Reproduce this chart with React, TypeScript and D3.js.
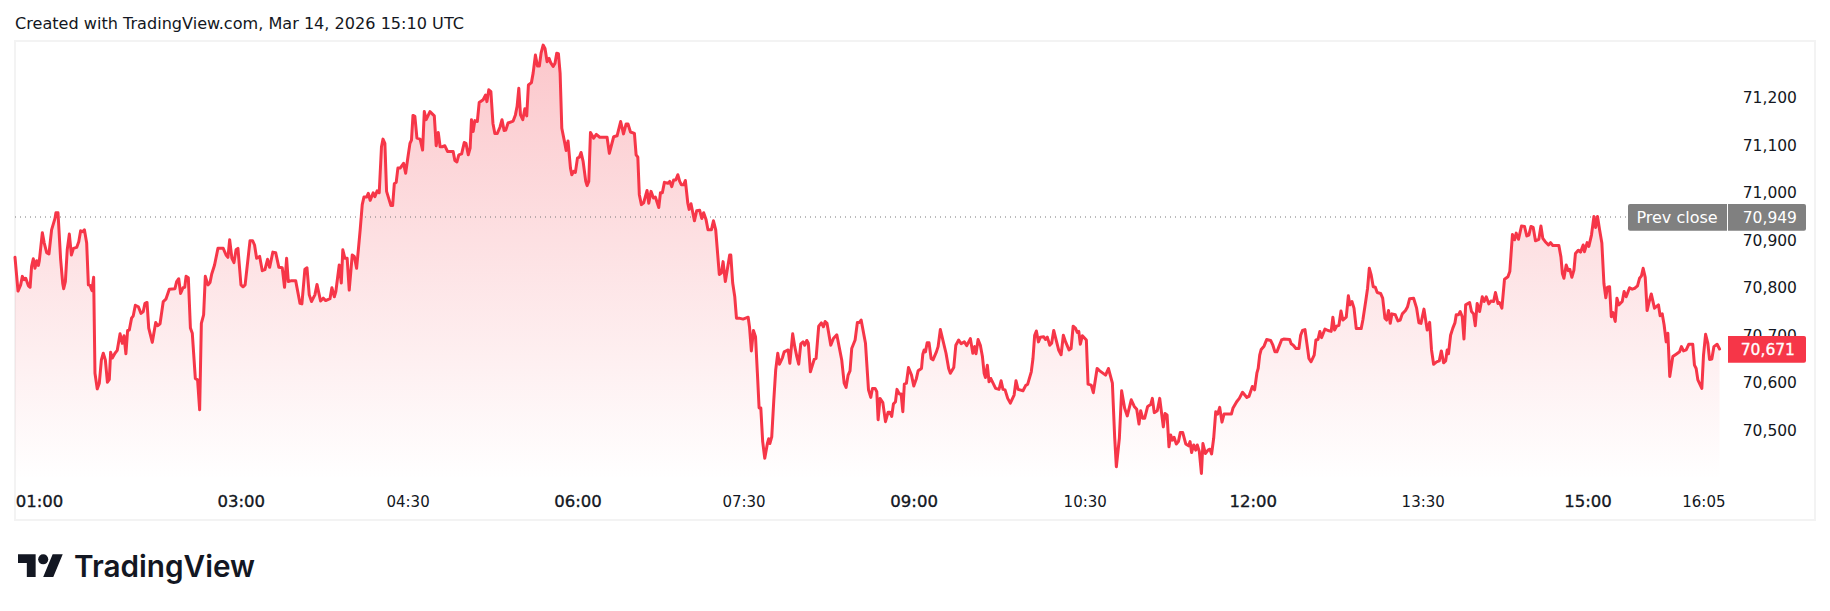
import React from "react";
import * as d3 from "d3";

type P = [number, number];
// [minutes since the first bar, price]
const early: P[] = [[0,70864],[1.6,70793],[3,70806],[3.9,70824],[4.8,70817],[5.7,70820],[7.1,70804],[8,70801],[8.8,70845],[9.7,70861],[10.6,70841],[11.5,70857],[12.4,70847],[12.9,70857],[14.5,70916],[15.5,70894],[16.8,70874],[18,70871],[19.4,70922],[21.2,70946],[21.7,70958],[22.8,70958],[24.2,70859],[25.3,70809],[25.8,70798],[26.7,70813],[27.7,70880],[28.8,70913],[29.9,70869],[31,70883],[32.7,70885],[33.8,70897],[34.8,70920],[35.9,70918],[36.8,70922],[38,70894],[38.9,70806],[39.8,70805],[40.8,70794],[41.7,70822],[42.4,70620],[43.6,70587],[44.7,70599],[45.8,70648],[46.8,70662],[47.9,70648],[49,70601],[50,70607],[50.7,70664],[51.6,70652],[53,70662],[54.2,70668],[55.7,70703],[56.9,70683],[57.8,70699],[58.8,70661],[59.7,70710],[60.6,70711],[61.8,70736],[62.7,70741],[63.8,70763],[65.4,70760],[66.8,70746],[68,70750],[68.9,70767],[70,70769],[70.9,70715],[72.8,70685],[74.6,70727],[75.6,70720],[76.9,70724],[78.6,70771],[80,70776],[81.8,70797],[84.8,70798],[85.7,70813],[86.8,70819],[87.8,70788],[89.1,70800],[90,70801],[90.7,70824],[91.9,70821],[93,70715],[94,70704],[95.6,70609],[96.8,70606],[97.9,70543],[98.8,70725],[100,70743],[100.9,70824],[102.3,70806],[103.4,70811],[104.3,70829],[105.8,70848],[107.6,70883],[110.4,70883],[111.9,70869],[112.9,70864],[113.8,70901],[115,70862],[116.1,70853],[117.2,70880],[118.2,70883],[119.8,70806],[120.9,70802],[122,70806],[124.6,70899],[126,70899],[127,70890]];

const climb: P[] = [[128.1,70862],[129.7,70866],[131.1,70836],[132.5,70838],[133.9,70860],[135,70843],[136.7,70875],[138.2,70874],[139.9,70843],[141.7,70842],[142.9,70801],[144,70862],[144.9,70813],[146.6,70815],[148.8,70815],[151.1,70767],[152.1,70766],[153.7,70839],[154.8,70842],[156,70785],[157.2,70771],[159,70785],[160.1,70807],[162,70772],[163.4,70778],[164.7,70773],[167,70777],[168,70800],[169.3,70781],[170.1,70792],[171.9,70848],[173,70810],[173.8,70880],[174.9,70862],[176.1,70862],[177.2,70795],[178.8,70869],[179.9,70866],[181.1,70841],[182.2,70887],[183,70922],[184.1,70975],[185,70991],[186.4,70991],[187.3,70999],[188.3,70984],[189.9,71000],[190.8,70992],[192,71004],[193.1,71000],[194.3,71097],[195.1,71113],[196.1,71104],[197,71003],[199.3,70973],[200.2,70973],[201.1,71019],[202.1,71022],[203,71052],[204.2,71052],[206,71062],[207.1,71041],[208.5,71080],[209.4,71104],[210.2,71111],[211,71163],[212,71161],[213.1,71115],[214.8,71113],[216.1,71090],[217,71171],[218,71154],[220,71171],[222.3,71162],[223.3,71099],[224.4,71127],[225.4,71097],[226.5,71097],[227.9,71099],[229.3,71087],[232.3,71087],[233.2,71068],[234.3,71065],[235.3,71080],[236.8,71082],[238.2,71106],[239.1,71104],[240.3,71080],[241.3,71094],[242,71154],[242.9,71129],[243.8,71152],[245.1,71150],[246.1,71190],[248.2,71196],[249.5,71206],[250.2,71192],[251.2,71217],[252.3,71213],[253.4,71146],[254.4,71125],[255.7,71125],[257.1,71138]];

const peak: P[] = [[258.2,71154],[259.3,71131],[260.2,71132],[261.4,71147],[264.1,71151],[265.3,71164],[266.2,71182],[267.1,71220],[268,71164],[269.2,71154],[270.3,71177],[271.3,71162],[272.2,71227],[273.8,71232],[274.7,71252],[275.9,71290],[277,71267],[278,71267],[278.9,71294],[280,71311],[281,71304],[282.1,71276],[283.2,71283],[284,71274],[285.3,71266],[286.3,71273],[287.2,71294],[288.1,71293],[289,71252],[289.9,71136],[291.5,71104],[292.2,71089],[293.2,71109],[294.5,71052],[295.2,71038],[296.2,71045],[297.1,71043],[298.2,71073],[299.2,71075],[300.1,71085],[301.2,71066],[302.6,71024],[303.3,71015],[304.2,71024],[305.1,71127],[306.8,71115],[308.2,71123],[310,71117],[313.9,71117],[315.1,71083],[317.4,71118],[319.2,71120],[321.1,71150],[322.6,71124],[324,71145],[325,71145],[326.3,71128],[328.4,71125],[329.3,71080],[330.2,71075],[331,70996],[332.1,70975],[333.3,70979],[335.1,71005],[336,70978],[337.2,71003],[338.5,70989],[339.5,70991],[341.3,70969],[342.2,71000],[343.2,71000],[344.3,71022],[346.2,71020],[347.1,71024],[348.2,71013],[349.2,71027],[350.3,71027],[351.4,71038],[352.4,71024],[353.3,71017],[354.5,71017],[355.4,71026],[356.7,70978],[357.4,70965],[358.4,70977],[360.2,70941],[361.4,70962],[363,70963],[364.1,70946],[365.1,70958],[366.4,70943],[367.4,70922],[369.2,70922],[370.3,70941],[371.5,70922],[373.4,70828],[374.5,70831],[375.4,70855],[376.6,70813],[378.9,70869],[379.5,70869],[380.5,70810],[381.6,70781],[382.5,70736],[383.9,70736],[386,70734]];

const slide: P[] = [[388.7,70738],[389.4,70718],[390.4,70667],[391.5,70710],[392.6,70697],[393.6,70620],[394.5,70547],[395.4,70547],[396.4,70476],[397.5,70441],[398.9,70472],[399.6,70482],[400.2,70472],[401.2,70486],[402.3,70564],[403.3,70627],[404.4,70662],[405.3,70639],[406.9,70653],[407.8,70665],[409.9,70669],[410.8,70641],[412.3,70703],[413.4,70676],[414.5,70655],[415.5,70639],[416.6,70682],[417.8,70686],[418.7,70679],[419.8,70689],[420.6,70683],[421.7,70623],[422.8,70637],[423.7,70649],[424.7,70651],[426.1,70719],[427.5,70726],[428.6,70718],[429.5,70729],[430.5,70725],[432.5,70679],[433.9,70693],[435.7,70701],[438.3,70648],[439.6,70599],[440.6,70590],[441.7,70616],[442.7,70625],[443.6,70672],[445.4,70690],[446.6,70727],[447.7,70727],[448.6,70732],[450.9,70683],[452.5,70585],[453.7,70569],[454.6,70588],[456,70588],[456.9,70581],[457.6,70522],[458.6,70567],[460.1,70558],[461.5,70518],[462.9,70538],[463.9,70538],[464.8,70529],[465.7,70555],[466.8,70560],[467.6,70586],[468.9,70576],[469.8,70576],[470.7,70539],[471.5,70597],[472.6,70599],[473.7,70632],[475.3,70616],[476.5,70593],[477.9,70609],[478.8,70625],[480.6,70630],[481.3,70660],[482,70669],[482.7,70665],[483.6,70684],[484.6,70684],[485.7,70651],[486.7,70648],[488.5,70665],[489.4,70676],[490.6,70712],[493.6,70662],[495,70630],[495.9,70620],[497.7,70632],[498.8,70679],[500.3,70690],[501.6,70682],[503.3,70686],[504.6,70678],[506.5,70693],[507.8,70662],[508.8,70676],[509.5,70661],[510.6,70691],[511.8,70679],[512.9,70655],[513.8,70620],[514.5,70611],[515.5,70637],[516.4,70602],[517.3,70609]];

const trough: P[] = [[519.9,70588],[521.7,70586],[522.8,70604],[523.8,70586],[524.9,70585],[526.3,70567],[527.7,70557],[529.7,70574],[530.7,70604],[531.8,70586],[534.4,70583],[535.8,70594],[536.9,70597],[538.8,70623],[539.7,70651],[540.6,70700],[541.5,70709],[542.6,70686],[543.6,70696],[545.4,70697],[546.3,70691],[547.3,70696],[548.6,70679],[549.6,70683],[550.7,70710],[553.3,70669],[554.6,70659],[555.8,70700],[557,70686],[558.8,70669],[559.9,70672],[561,70719],[562.2,70715],[563.2,70706],[564,70708],[564.8,70681],[565.9,70699],[568,70690],[568.9,70597],[570.6,70595],[571.7,70579],[573.7,70630],[575.1,70625],[578.2,70616],[579.7,70630],[581.8,70599],[583,70486],[583.9,70423],[585.5,70483],[586.7,70583],[588.3,70546],[589.7,70530],[591.8,70564],[593.4,70550],[594.7,70544],[595.9,70513],[596.8,70541],[597.9,70525],[598.9,70525],[600.5,70550],[602.1,70554],[603,70567],[604,70537],[605.6,70541],[606.9,70567],[608.8,70507],[609.7,70535],[610.8,70532],[611.8,70465],[612.7,70490],[613.6,70479],[614.5,70485],[615.7,70471],[616.8,70476],[617.8,70495],[619.1,70495],[620.7,70471],[622.2,70467],[623,70476],[623.8,70453],[624.9,70469],[626,70458],[626.8,70469],[627.9,70455],[629,70409],[629.8,70472],[631.1,70451],[632.5,70458],[633.5,70460],[634.4,70450],[635.5,70483],[636.6,70539],[637.6,70534],[638.7,70548],[639.9,70517],[641,70534],[644.9,70534],[645.7,70546]];

const recovery: P[] = [[647.7,70560],[649.1,70567],[650.8,70580],[653.1,70569],[654.2,70571],[656,70592],[657.2,70585],[658.4,70620],[659.1,70630],[659.9,70658],[660.7,70670],[662.2,70677],[663.6,70691],[665.7,70689],[666.9,70679],[668,70665],[669,70665],[670.1,70676],[671.5,70690],[672.6,70692],[675.8,70691],[676.6,70682],[677.7,70679],[679.1,70672],[680.7,70672],[681.6,70700],[682.6,70710],[683.9,70712],[684.9,70683],[686,70651],[687.1,70644],[688.8,70658],[689.7,70690],[690.8,70691],[691.8,70708],[692.7,70695],[694.5,70713],[696.1,70710],[697.8,70708],[698.7,70738],[699.6,70711],[700.7,70719],[701.9,70721],[703,70751],[704,70732],[705.8,70738],[706.9,70783],[707.7,70764],[708.8,70771],[709.9,70757],[711.1,70714],[713.7,70714],[714.6,70732],[716.2,70774],[717.1,70799],[718,70841],[719,70827],[720.1,70802],[721.2,70801],[722.2,70790],[724,70788],[725.1,70778],[726.3,70736],[727.2,70732],[728.2,70752],[729.1,70725],[730,70745],[731.8,70743],[733.2,70730],[734.4,70732],[735.5,70745],[737.2,70752],[738.3,70760],[739.4,70777],[741.5,70778],[743.1,70757],[744.3,70726],[745.4,70725],[747,70755],[748.7,70711],[750,70727],[751,70669],[752.1,70639],[753.7,70644],[755.1,70646],[756.2,70667],[757.4,70642],[758.5,70646],[759.3,70669],[760,70661],[761.1,70700],[762.3,70715],[763.4,70726],[764.1,70743],[765.3,70743],[766.2,70750],[767.3,70739],[768.2,70692],[769.1,70764],[771.2,70769],[772.2,70750],[773.3,70745],[774.2,70720],[775.2,70767]];

const closing: P[] = [[776.5,70750],[777.9,70781],[778.9,70771],[780,70781],[781.4,70766],[782.5,70772],[783.9,70771],[784.9,70790],[786.2,70767],[787,70769],[788.3,70757],[789.7,70818],[791.5,70823],[792.5,70834],[793.9,70912],[795,70901],[795.9,70915],[797.1,70902],[798.7,70930],[800.3,70929],[801.5,70909],[802.6,70911],[803.7,70929],[804.9,70927],[806.1,70899],[807.9,70902],[809,70930],[810,70904],[811.3,70897],[813,70890],[814.1,70895],[815.3,70889],[818.5,70889],[819.6,70865],[820.4,70830],[821.2,70820],[822.4,70848],[823.5,70836],[824.3,70839],[825.4,70822],[826.5,70837],[827.3,70872],[828.8,70879],[830,70875],[831.4,70890],[832.1,70876],[833.5,70895],[834.4,70887],[835.8,70911],[837.1,70950],[838,70927],[839,70950],[840.1,70922],[841.3,70894],[842.4,70809],[843.4,70779],[844.3,70801],[845.4,70802],[846.3,70739],[847.1,70748],[848.4,70729],[849.3,70778],[850.3,70764],[852.1,70771],[853.1,70792],[854.2,70781],[856,70800],[857.4,70797],[858.8,70799],[860.2,70804],[861.3,70820],[862.3,70825],[863.2,70841],[864.3,70822],[865.3,70752],[866.4,70771],[867.5,70787],[869.2,70757],[871.3,70764],[872.2,70741],[873.3,70745],[874.3,70722],[875.4,70686],[876.3,70704],[877.3,70613],[878.9,70655],[880.7,70660],[882.5,70665],[883.5,70676],[884.6,70667],[886,70669],[887.4,70681],[889.5,70681],[890.4,70637],[891.3,70630],[892.2,70606],[894.3,70588],[895.2,70658],[896.3,70702],[897.5,70683],[898.4,70649],[899.6,70650],[900.7,70676],[902.4,70681],[903.7,70671]];

const series: P[] = [...early, ...climb, ...peak, ...slide, ...trough, ...recovery, ...closing];

const priceTicks = [71200, 71100, 71000, 70900, 70800, 70700, 70600, 70500];
const timeTicks: { at: number; label: string; major: boolean }[] = [
  { at: 13, label: "01:00", major: true },
  { at: 120, label: "03:00", major: true },
  { at: 208.4, label: "04:30", major: false },
  { at: 298.5, label: "06:00", major: true },
  { at: 386.5, label: "07:30", major: false },
  { at: 476.7, label: "09:00", major: true },
  { at: 567.4, label: "10:30", major: false },
  { at: 656.5, label: "12:00", major: true },
  { at: 746.6, label: "13:30", major: false },
  { at: 834, label: "15:00", major: true },
  { at: 895.4, label: "16:05", major: false },
];
const prevClose = 70949;
const lastPrice = 70671;
const areaFloor = 70395;
const stamp = "Created with TradingView.com, Mar 14, 2026 15:10 UTC";

const RED = "#F63648";
const INK = "#131722";
const FONT = "'DejaVu Sans', sans-serif";

export default function App() {
  const x = d3.scaleLinear().domain([0, 905]).range([15, 1722]);
  const y = d3.scaleLinear().domain([70409, 70949]).range([473.41, 217]);
  const line = d3.line<P>().x((d) => x(d[0])).y((d) => y(d[1]));
  const area = d3.area<P>().x((d) => x(d[0])).y0(y(areaFloor)).y1((d) => y(d[1]));
  const fmt = d3.format(",");
  const lastY = y(lastPrice);
  const prevY = y(prevClose);
  return (
    <svg width={1830} height={611} style={{ position: "absolute", left: 0, top: 0, display: "block", background: "#fff" }}>
      <defs>
        <linearGradient id="fade" gradientUnits="userSpaceOnUse" x1={0} x2={0} y1={y(71311)} y2={y(areaFloor)}>
          <stop offset="0%" stopColor="#F23645" stopOpacity={0.28} />
          <stop offset="100%" stopColor="#F23645" stopOpacity={0} />
        </linearGradient>
      </defs>
      <text x={15} y={29} fontFamily={FONT} fontSize={15.5} fill={INK} textLength={449} lengthAdjust="spacingAndGlyphs">{stamp}</text>
      <rect x={15} y={41} width={1800} height={479} fill="none" stroke="#f3f3f3" strokeWidth={2} />
      <path d={area(series) ?? ""} fill="url(#fade)" />
      <line x1={15} x2={1628} y1={prevY} y2={prevY} stroke="#777" strokeWidth={1} strokeDasharray="1 4" />
      <path d={line(series) ?? ""} fill="none" stroke={RED} strokeWidth={3} strokeLinejoin="round" strokeLinecap="round" />
      {priceTicks.map((p) => (
        <text key={p} x={1797} y={y(p)} dy="0.36em" textAnchor="end" fontFamily={FONT} fontSize={15.5} fill={INK}>{fmt(p)}</text>
      ))}
      {timeTicks.map((t) => (
        <text key={t.label} x={x(t.at)} y={507} textAnchor="middle" fontFamily={FONT} fontSize={t.major ? 16.5 : 15} stroke={t.major ? INK : "none"} strokeWidth={t.major ? 0.35 : 0} fill={INK}>{t.label}</text>
      ))}
      <path d={`M1630,${prevY - 13}H1727V${prevY + 13.7}H1630a2,2 0 0 1 -2,-2V${prevY - 11}a2,2 0 0 1 2,-2z`} fill="#808080" />
      <path d={`M1728,${prevY - 13}H1804a2,2 0 0 1 2,2V${prevY + 11.7}a2,2 0 0 1 -2,2H1728z`} fill="#808080" />
      <text x={1677} y={prevY + 0.5} dy="0.36em" textAnchor="middle" fontFamily={FONT} fontSize={16} fill="#fff">Prev close</text>
      <text x={1797} y={prevY} dy="0.36em" textAnchor="end" fontFamily={FONT} fontSize={15.5} fill="#fff">{fmt(prevClose)}</text>
      <path d={`M1728,${lastY - 13}H1804a2,2 0 0 1 2,2V${lastY + 11.7}a2,2 0 0 1 -2,2H1728z`} fill={RED} />
      <text x={1795} y={lastY} dy="0.36em" textAnchor="end" fontFamily={FONT} fontSize={15.5} stroke="#fff" strokeWidth={0.3} fill="#fff">{fmt(lastPrice)}</text>
      <g transform="translate(18,550.5) scale(1.26)" fill={INK}>
        <path d="M14 21H7V10H0V3h14v18zM28 21h-8l7.5-18h8L28 21z" />
        <circle cx="20" cy="7" r="4" />
      </g>
      <text x={74} y={576.5} fontFamily="Inter, sans-serif" fontSize={30} fontWeight={600} fill={INK} textLength={181} lengthAdjust="spacingAndGlyphs">TradingView</text>
    </svg>
  );
}
